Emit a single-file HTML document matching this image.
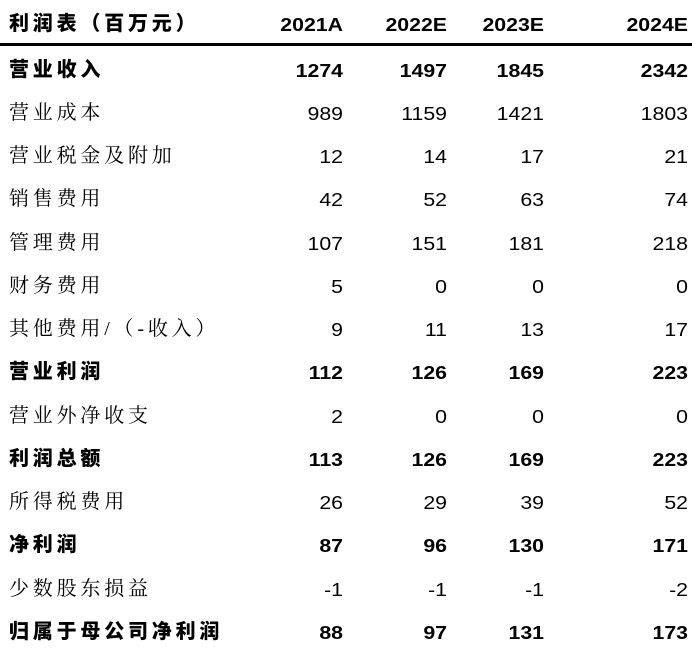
<!DOCTYPE html>
<html><head><meta charset="utf-8"><style>
html,body{margin:0;padding:0;background:#fff;}
body{width:692px;height:650px;position:relative;overflow:hidden;color:#000;}
.row{position:absolute;left:0;width:692px;height:43px;}
.lab{position:absolute;left:9px;top:0;line-height:43px;font-family:"Liberation Serif","Noto Serif CJK SC",serif;font-size:20px;letter-spacing:3.8px;white-space:nowrap;}
.b .lab{font-weight:900;font-family:"Liberation Sans","Noto Sans CJK SC",sans-serif;}
.v{position:absolute;top:0;line-height:43px;font-family:"Liberation Sans",Arial,sans-serif;font-size:18.5px;text-align:right;width:100px;transform:scaleX(1.15);transform-origin:right center;}
.b .v{font-weight:bold;}
.c1{left:243px}.c2{left:347px}.c3{left:444px}.c4{left:588px}
#hline{position:absolute;left:0;top:43px;width:692px;height:3px;background:#000;}
</style></head><body>
<div class="row b" style="top:3px">
<span class="lab">利润表（百万元）</span>
<span class="v c1">2021A</span>
<span class="v c2">2022E</span>
<span class="v c3">2023E</span>
<span class="v c4">2024E</span>
</div>
<div id="hline"></div>
<div id="rows"></div>
<script>
const labels=["营业收入","营业成本","营业税金及附加","销售费用","管理费用","财务费用","其他费用/（-收入）","营业利润","营业外净收支","利润总额","所得税费用","净利润","少数股东损益","归属于母公司净利润"];
const bold=[1,0,0,0,0,0,0,1,0,1,0,1,0,1];
const v2021=[1274,989,12,42,107,5,9,112,2,113,26,87,-1,88];
const v2022=[1497,1159,14,52,151,0,11,126,0,126,29,96,-1,97];
const v2023=[1845,1421,17,63,181,0,13,169,0,169,39,130,-1,131];
const v2024=[2342,1803,21,74,218,0,17,223,0,223,52,171,-2,173];
const host=document.getElementById('rows');
labels.forEach((l,i)=>{
  const r=document.createElement('div');
  r.className='row'+(bold[i]?' b':'');
  r.style.top=(48.5+i*43.25)+'px';
  
  
  const s=document.createElement('span');s.className='lab';s.textContent=l;
  
  
  r.appendChild(s);
  [v2021,v2022,v2023,v2024].forEach((arr,j)=>{
    const c=document.createElement('span');c.className='v c'+(j+1);c.textContent=arr[i];
    
    
    r.appendChild(c);
  });
  host.appendChild(r);
});
</script>
</body></html>
